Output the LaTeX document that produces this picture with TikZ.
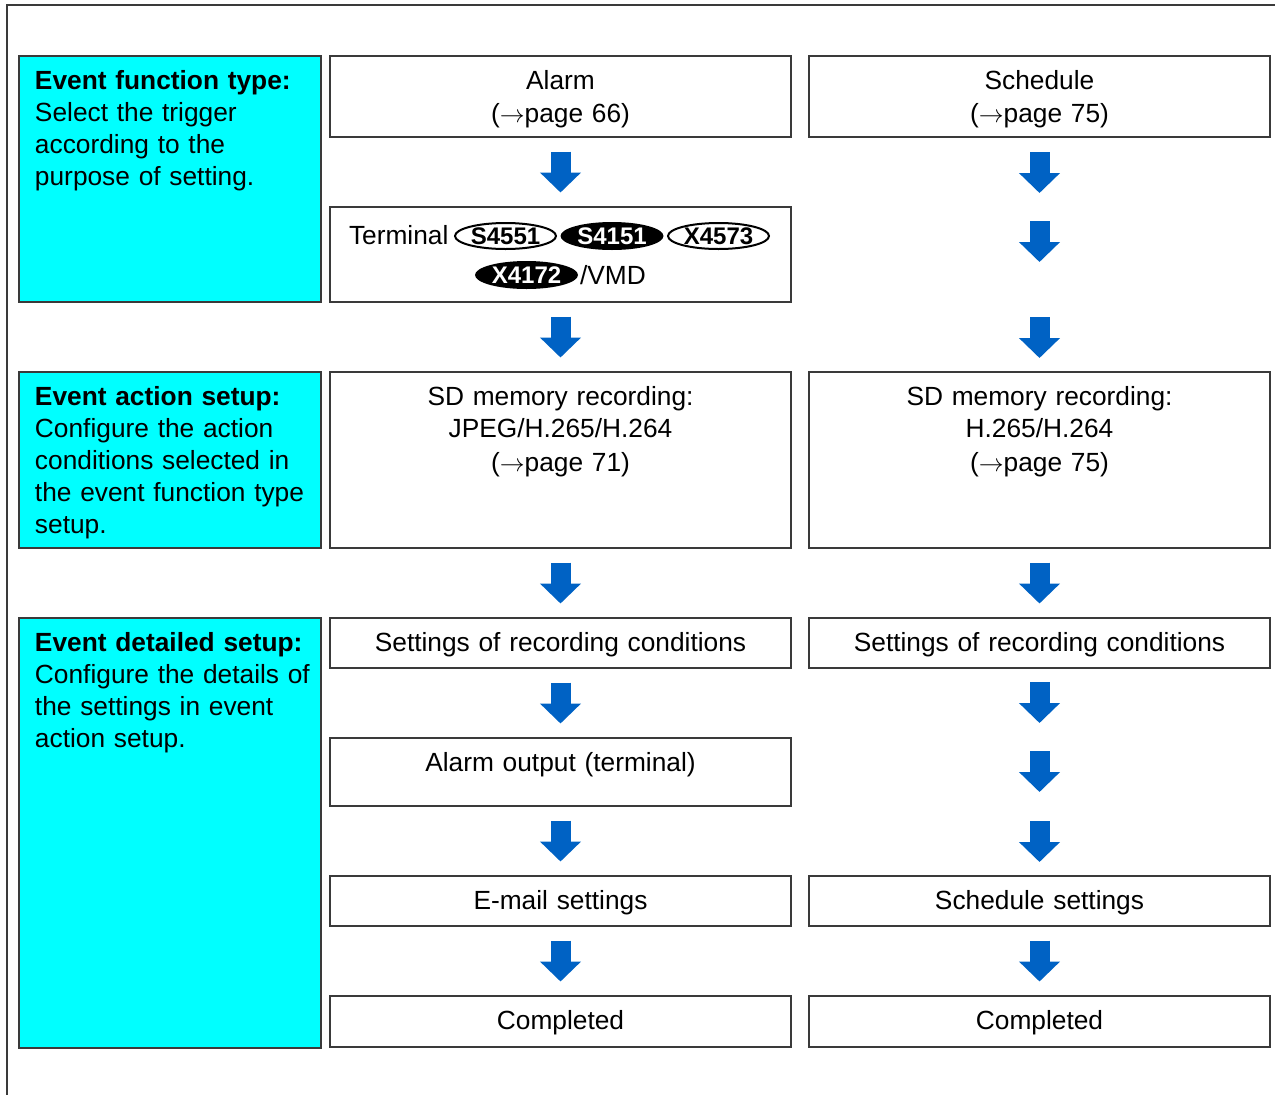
\documentclass[tikz,border=0pt]{standalone}
\usepackage{fontspec}
\setmainfont{Liberation Sans}
\usepackage{xcolor}
\definecolor{stageBack}{HTML}{00FFFF}
\definecolor{flowBlue} {HTML}{0062C4}
\definecolor{edgeGray} {HTML}{3A3A3A}
\usetikzlibrary{arrows.meta, positioning, calc, shapes.geometric}
\tikzset{
    stepbox/.style={rectangle, draw=edgeGray, line width=1.5pt, fill=white,
                    inner sep=0pt, outer sep=0pt, text width=461pt, align=center,
                    text height=33.5pt, text depth=#1pt},
    stage/.style={rectangle, draw=edgeGray, line width=1.5pt, fill=stageBack,
                  inner xsep=8pt, inner ysep=0pt, outer sep=0pt, text width=286pt,
                  align=left, text height=33.5pt, text depth=#1pt,
                  execute at begin node={\leftskip=8pt\relax}},
    plain/.style={inner sep=0pt, outer sep=0pt},
    badgeopen/.style={ellipse, draw=black, line width=2pt, fill=white,
                      minimum width=101pt, minimum height=26pt, inner sep=0pt},
    badgesolid/.style={ellipse, fill=black, minimum width=103pt,
                       minimum height=28pt, inner sep=0pt},
    txtopen/.style={plain, font=\fontsize{24pt}{24pt}\selectfont\bfseries, text=black},
    txtsolid/.style={plain, font=\fontsize{24pt}{24pt}\selectfont\bfseries, text=white},
    flowbase/.style={draw=flowBlue, line width=20pt, -{Triangle[length=20pt, width=40pt]}},
    flow/.style={flowbase, shorten <=14.5pt, shorten >=14.5pt},
    frameline/.style={draw=edgeGray, line width=1.5pt},
}
\begin{document}
\begin{tikzpicture}[x=1pt, y=-1pt, node distance=70pt,
                    font=\fontsize{26.3pt}{32pt}\selectfont]
    \useasboundingbox (0,0) rectangle (1275,1095);
    \draw[frameline] (1275,5) -- (7,5) -- (7,1095);

    % alarm column
    \node[stepbox=47.5, anchor=north west] (alarm) at (330,56)
        {Alarm\\[1pt]($\rightarrow$page 66)};
    \node[stepbox=61.5, below=of alarm] (trm) {};
    \node[stepbox=142.5, below=of trm] (sdA)
        {SD memory recording:\\JPEG/H.265/H.264\\[2pt]($\rightarrow$page 71)};
    \node[stepbox=16.5, below=of sdA] (recA) {Settings of recording conditions};
    \node[stepbox=34.5, below=of recA] (almout) {Alarm output (terminal)};
    \node[stepbox=16.5, below=of almout] (mail) {E-mail settings};
    \node[stepbox=17.5, below=of mail] (doneA) {Completed};

    % schedule column
    \node[stepbox=47.5, right=18pt of alarm] (sched)
        {Schedule\\[1pt]($\rightarrow$page 75)};
    \node[stepbox=142.5, right=18pt of sdA] (sdB)
        {SD memory recording:\\H.265/H.264\\[2pt]($\rightarrow$page 75)};
    \node[stepbox=16.5, right=18pt of recA] (recB) {Settings of recording conditions};
    \node[stepbox=16.5, right=18pt of mail] (schedset) {Schedule settings};
    \node[stepbox=17.5, right=18pt of doneA] (doneB) {Completed};

    % stage captions
    \node[stage=212.5, left=9pt of alarm.north west, anchor=north east] (typeinfo)
        {\textbf{Event function type:}\\Select the trigger\\according to the\\purpose of setting.};
    \node[stage=142.5, left=9pt of sdA.north west, anchor=north east] (actinfo)
        {\textbf{Event action setup:}\\Configure the action\\conditions selected in\\the event function type\\setup.};
    \node[stage=396.5, left=9pt of recA.north west, anchor=north east] (detinfo)
        {\textbf{Event detailed setup:}\\Configure the details of\\the settings in event\\action setup.};

    % terminal line
    \node[plain, anchor=base west] (trmword) at (349,244.5) {Terminal};
    \foreach \name/\x/\y/\kind in {S4551/505.5/236/open, S4151/612/236/solid,
                                   X4573/718.5/236/open, X4172/526.5/275/solid} {
        \node[badge\kind] (b\name) at (\x,\y) {};
        \node[txt\kind] (t\name) at (b\name) {\name};
    }
    \node[plain, anchor=base west] (vmd) at (580,284.5) {/VMD};

    % arrows
    \foreach \a/\b in {alarm/trm, trm/sdA, sdA/recA, recA/almout, almout/mail, mail/doneA}
        \draw[flow] (\a) -- (\b);
    \foreach \d in {15,84,180}
        \draw[flowbase] ($(sched.south)+(0,\d)$) -- ++(0,41);
    \draw[flow] (sdB) -- (recB);
    \foreach \d in {14,83,153}
        \draw[flowbase] ($(recB.south)+(0,\d)$) -- ++(0,41);
    \draw[flow] (schedset) -- (doneB);
\end{tikzpicture}
\end{document}
